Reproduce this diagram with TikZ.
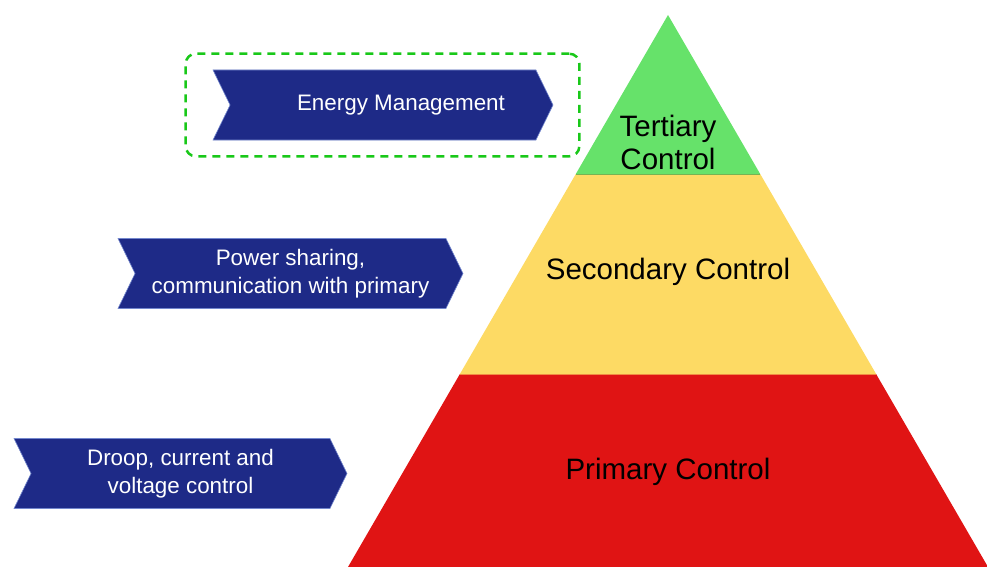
\documentclass[tikz,border=0pt]{standalone}
\usepackage{fontspec}
\setmainfont{Liberation Sans}
\usetikzlibrary{shapes.symbols,fit}

\definecolor{navy}{RGB}{30,42,135}
\definecolor{navyline}{RGB}{115,135,205}
\definecolor{tergreen}{RGB}{102,226,106}
\definecolor{secyellow}{RGB}{253,218,100}
\definecolor{primred}{RGB}{224,20,20}
\definecolor{framegreen}{RGB}{25,200,25}

\tikzset{
    chevron/.style={signal, signal from=west, signal to=east,
        signal pointer angle=128, fill=navy, draw=navyline, line width=0.6pt,
        minimum height=70, inner sep=0pt, text=white, align=center,
        font=\fontsize{22.4}{28}\selectfont},
    level/.style={align=center, font=\fontsize{29.5}{33}\selectfont}
}

\begin{document}
\begin{tikzpicture}[x=1pt, y=-1pt]
        \useasboundingbox (0,0) rectangle (987,567);

        % Pyramid corners
        \coordinate (apex) at (668,15);
        \coordinate (tl) at (575.8,174);
        \coordinate (tr) at (760.2,174);
        \coordinate (sl) at (459.9,374);
        \coordinate (sr) at (876.1,374);
        \coordinate (bl) at (348,567);
        \coordinate (br) at (988,567);

        % Pyramid layers
        \fill[tergreen] (apex) -- (tr) -- (tl) -- cycle;
        \fill[secyellow] (tl) -- (tr) -- (sr) -- (sl) -- cycle;
        \fill[primred] (sl) -- (sr) -- (br) -- (bl) -- cycle;
        \draw[tergreen!70!secyellow!80!black, line width=0.4pt] (tl) -- (tr);
        \draw[secyellow!60!primred, line width=0.4pt] (sl) -- (sr);

        % Layer names
        \node[level] (tertiary) at (668,142) {Tertiary\\Control};
        \node[level] (secondary) at (668,272) {Secondary Control};
        \node[level] (primary) at (668,472) {Primary Control};

        % Tasks of each layer
        \node[chevron, minimum width=340] (energy) at (383,105)
            {\hspace*{36pt}Energy Management};
        \node[chevron, minimum width=345] (sharing) at (290.5,273.5)
            {Power sharing,\\communication with primary};
        \node[chevron, minimum width=333] (droop) at (180.5,473.5)
            {Droop, current and\\voltage control};

        % Frame round the top task
        \node[draw=framegreen, line width=2.5pt, dash pattern=on 8pt off 6pt,
            rounded corners=10pt, inner xsep=35pt, inner ysep=16pt,
            fit=(energy), xshift=-9pt] (frame) {};
    \end{tikzpicture}
\end{document}
